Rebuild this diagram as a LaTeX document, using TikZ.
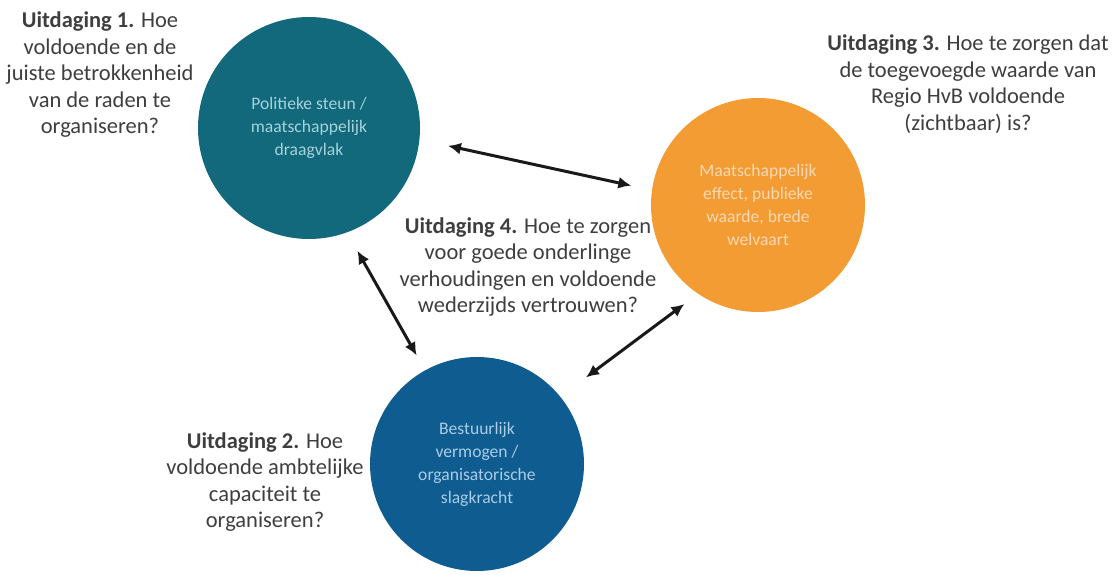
\documentclass[tikz,border=0pt]{standalone}
\usepackage{fontspec}
\setmainfont{Carlito}
\usetikzlibrary{arrows.meta}

\definecolor{tealc}{HTML}{11697B}
\definecolor{tealtxt}{HTML}{A6D2DB}
\definecolor{bluec}{HTML}{0E5C90}
\definecolor{bluetxt}{HTML}{AACCE6}
\definecolor{orangec}{HTML}{F39C33}
\definecolor{orangetxt}{HTML}{FAD8B2}
\definecolor{textgray}{HTML}{3E3E3E}

\begin{document}
\begin{tikzpicture}[x=1pt,y=-1pt,
  bubble/.style={circle, inner sep=0pt, align=center,
    font=\fontsize{17.6}{23}\selectfont},
  challenge/.style={align=center, text=textgray,
    font=\fontsize{22.5}{26.5}\selectfont},
  twoway/.style={{Latex[length=13pt,width=12pt]}-{Latex[length=13pt,width=12pt]},
    line width=3pt, black!90}]

\useasboundingbox (0,0) rectangle (1114,575);

%================ CIRCLES ==================
\node[bubble, fill=tealc, text=tealtxt, minimum size=222pt] (steun) at (309,128)
  {Politieke steun /\\maatschappelijk\\draagvlak};
\node[bubble, fill=orangec, text=orangetxt, minimum size=214pt] (effect) at (758,205)
  {Maatschappelijk\\effect, publieke\\waarde, brede\\welvaart};
\node[bubble, fill=bluec, text=bluetxt, minimum size=214pt] (bestuur) at (477,464)
  {Bestuurlijk\\vermogen /\\organisatorische\\slagkracht};

%================ ARROWS ==================
\draw[twoway, shorten <=29pt, shorten >=21pt] (steun.-6) -- (effect.172);
\draw[twoway, shorten <=21pt, shorten >=17pt] (steun.-70) -- (bestuur.119);
\draw[twoway, shorten <=32pt, shorten >=17pt] (bestuur.39) -- (effect.-124);

%================ CHALLENGES ==================
\node[challenge] (u1) at (100,75)
  {\textbf{Uitdaging 1.} Hoe\\voldoende en de\\juiste betrokkenheid\\van de raden te\\organiseren?};
\node[challenge] (u2) at (265,482)
  {\textbf{Uitdaging 2.} Hoe\\voldoende ambtelijke\\capaciteit te\\organiseren?};
\node[challenge] (u3) at (968,84)
  {\textbf{Uitdaging 3.} Hoe te zorgen dat\\de toegevoegde waarde van\\Regio HvB voldoende\\(zichtbaar) is?};
\node[challenge] (u4) at (528,267)
  {\textbf{Uitdaging 4.} Hoe te zorgen\\voor goede onderlinge\\verhoudingen en voldoende\\wederzijds vertrouwen?};

\end{tikzpicture}
\end{document}
